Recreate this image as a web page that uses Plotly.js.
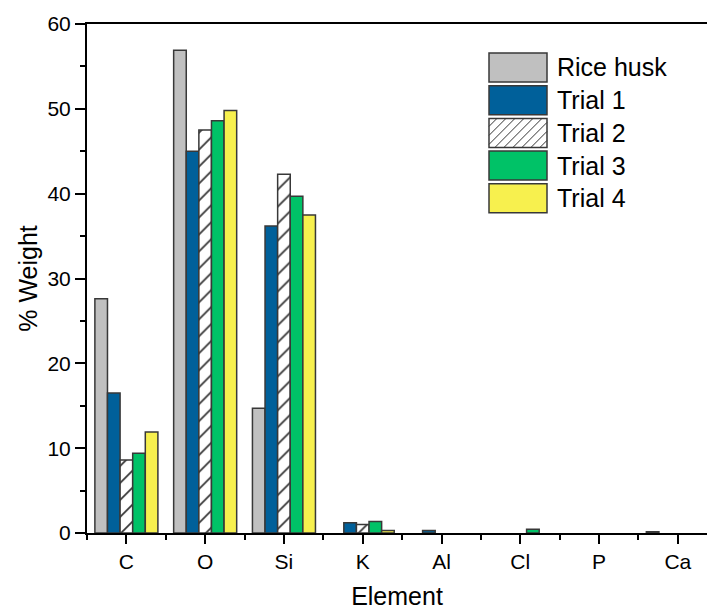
<!DOCTYPE html>
<html>
<head>
<meta charset="utf-8">
<script src="https://cdn.plot.ly/plotly-3.0.1.min.js"></script>
<style>html,body{margin:0;padding:0;background:#fff;}#chart{width:707px;height:610px;}</style>
</head>
<body>
<div id="chart"></div>
<script>
const categories = ["C", "O", "Si", "K", "Al", "Cl", "P", "Ca"];
const seriesNames = ["Rice husk", "Trial 1", "Trial 2", "Trial 3", "Trial 4"];
// null = not detected (no bar drawn)
const riceHusk = [27.6, 56.9, 14.7, null, null, null, null, 0.15];
const trial1   = [16.5, 45.0, 36.2, 1.2, 0.3, null, null, null];
const trial2   = [8.6, 47.5, 42.3, 1.0, null, null, null, null];
const trial3   = [9.4, 48.6, 39.7, 1.35, null, 0.45, null, null];
const trial4   = [11.9, 49.8, 37.5, 0.3, null, null, null, null];
const yTicks = [0, 10, 20, 30, 40, 50, 60];

const seriesValues = [riceHusk, trial1, trial2, trial3, trial4];
const colors = ["#c0c0c0", "#00609a", "#ffffff", "#00c267", "#f7f04e"];
const outline = "#383838";
const xIdx = categories.map((c, i) => i);
const FONT = "Liberation Sans, Arial, sans-serif";

const traces = seriesValues.map((vals, k) => {
  const t = {
    type: "bar",
    name: seriesNames[k],
    x: xIdx,
    y: vals,
    marker: { color: colors[k], line: { color: outline, width: 1.5 } },
    showlegend: false
  };
  if (k === 2) {
    t.marker.pattern = { shape: "/", bgcolor: "#ffffff", fgcolor: "#333333", size: 12, solidity: 0.14, fillmode: "replace" };
  }
  return t;
});

// Legend drawn as shapes + annotations (pixel -> paper conversion)
const W = 707, H = 610, ml = 87, mr = 0, mt = 24, mb = 77;
const pw = W - ml - mr, ph = H - mt - mb;
const px = v => (v - ml) / pw;
const py = v => (H - mb - v) / ph;
const shapes = [];
const annotations = [];
const boxX0 = 489, boxX1 = 547, boxH = 29, rowTop0 = 53, pitch = 32.7;
seriesNames.forEach((name, k) => {
  const y0 = rowTop0 + k * pitch, y1 = y0 + boxH;
  shapes.push({ type: "rect", xref: "paper", yref: "paper",
    x0: px(boxX0), x1: px(boxX1), y0: py(y1), y1: py(y0),
    fillcolor: colors[k], line: { color: outline, width: 1.5 }, layer: "above" });
  if (k === 2) {
    for (let c = boxX0 + y0 + 8; c < boxX1 + y1; c += 9) {
      let xa = Math.max(boxX0, c - y1), xb = Math.min(boxX1, c - y0);
      if (xb - xa < 1) continue;
      shapes.push({ type: "line", xref: "paper", yref: "paper",
        x0: px(xa), y0: py(c - xa), x1: px(xb), y1: py(c - xb),
        line: { color: "#333333", width: 1 }, layer: "above" });
    }
  }
  annotations.push({ xref: "paper", yref: "paper", x: px(555), y: py((y0 + y1) / 2),
    xanchor: "left", yanchor: "middle", text: name, showarrow: false,
    font: { family: FONT, size: 25, color: "#000" } });
});

const layout = {
  width: W, height: H,
  margin: { l: ml, r: mr, t: mt, b: mb, pad: 0 },
  paper_bgcolor: "#fff", plot_bgcolor: "#fff",
  barmode: "group", bargap: 0.2, bargroupgap: 0,
  showlegend: false,
  font: { family: FONT, color: "#000" },
  xaxis: {
    type: "linear",
    range: [-0.5, 7.37],
    tickmode: "array", tickvals: xIdx, ticktext: categories,
    ticks: "outside", ticklen: 9, tickwidth: 2, tickcolor: "#000",
    minor: { tickmode: "linear", tick0: -0.5, dtick: 1, ticks: "outside", ticklen: 5, tickwidth: 2, tickcolor: "#000" },
    showline: true, linecolor: "#000", linewidth: 2, mirror: true,
    showgrid: false, zeroline: false,
    tickfont: { family: FONT, size: 21, color: "#000" },
    title: { text: "Element", font: { family: FONT, size: 25, color: "#000" }, standoff: 16 },
    automargin: false, fixedrange: true
  },
  yaxis: {
    range: [0, 60],
    tickmode: "array", tickvals: yTicks,
    ticks: "outside", ticklen: 10, tickwidth: 2, tickcolor: "#000",
    minor: { tickmode: "linear", tick0: 5, dtick: 10, ticks: "outside", ticklen: 5, tickwidth: 2, tickcolor: "#000" },
    showline: true, linecolor: "#000", linewidth: 2, mirror: false,
    showgrid: false, zeroline: false,
    tickfont: { family: FONT, size: 21, color: "#000" },
    title: { text: "% Weight", font: { family: FONT, size: 25, color: "#000" }, standoff: 3 },
    automargin: false, fixedrange: true
  },
  shapes: shapes,
  annotations: annotations
};

Plotly.newPlot("chart", traces, layout, { staticPlot: true, displayModeBar: false });
</script>
</body>
</html>
